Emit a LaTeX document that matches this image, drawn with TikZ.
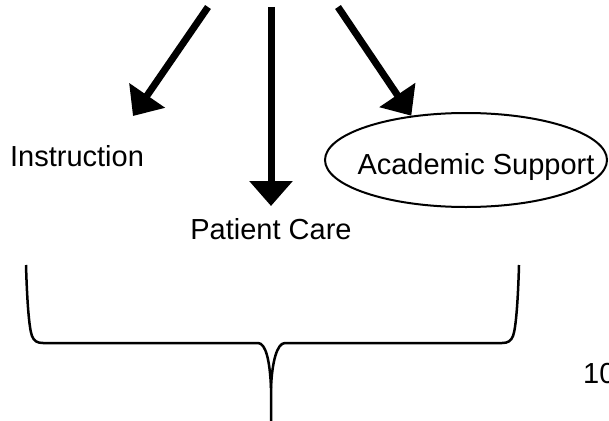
\documentclass[tikz,border=0pt]{standalone}
\usepackage{fontspec}
\setmainfont{Liberation Sans}
\usetikzlibrary{arrows.meta,shapes.geometric}
\begin{document}
\begin{tikzpicture}[x=1pt,y=-1pt,
  lbl/.style={font=\fontsize{29}{35}\selectfont, inner sep=0pt, anchor=base},
  bigarrow/.style={line width=7pt, -{Triangle[width=42pt,length=25pt]}},
  oval/.style={ellipse, draw, line width=2pt, minimum width=282pt, minimum height=94pt, inner sep=0pt},
  bracestyle/.style={line width=2.5pt, line join=round}]
\useasboundingbox (0,0) rectangle (609,420);
% texts and shapes
\node[lbl] (instr) at (77,166) {Instruction};
\node[lbl] (care) at (271,239) {Patient Care};
\node[oval] (acad) at (466,160) {};
\node[lbl] (acadtext) at (476,174) {Academic Support};
\node[lbl, anchor=base west] (num) at (583,383) {10};
% arrow sources and tips
\coordinate (s1) at (208,7);
\coordinate (t1) at (133,116);
\coordinate (s2) at (271,7);
\coordinate (t2) at (271,206);
\coordinate (s3) at (338,7);
% arrows
\draw[bigarrow] (s1) -- (t1);
\draw[bigarrow] (s2) -- (t2);
\draw[bigarrow] (s3) -- (acad.141);
% brace
\draw[bracestyle] (26,265) .. controls (27,300) and (29,328) .. (32,336)
  .. controls (34,341) and (37,343) .. (43,343) -- (258,343)
  .. controls (266,343) and (270,362) .. (271,388) -- (271,421);
\draw[bracestyle] (519,265) .. controls (518,300) and (516,328) .. (513,336)
  .. controls (511,341) and (508,343) .. (502,343) -- (285,343)
  .. controls (277,343) and (272,362) .. (271,388);
\end{tikzpicture}
\end{document}
